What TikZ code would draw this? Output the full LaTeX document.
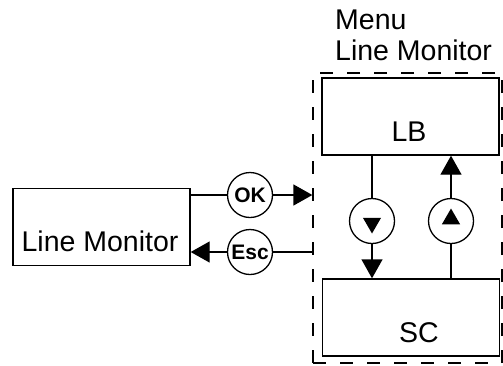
\documentclass[tikz,border=0pt]{standalone}
\usepackage{fontspec}
\setmainfont{Liberation Sans}
\usetikzlibrary{arrows.meta,shapes.geometric}
\begin{document}
\begin{tikzpicture}[x=1pt,y=-1pt,
  box/.style={draw,line width=1.4pt,rectangle,inner sep=0pt,minimum width=177pt,minimum height=77pt},
  big/.style={font=\fontsize{28.5}{34}\selectfont,inner sep=0pt},
  key/.style={draw,line width=1.3pt,circle,minimum size=45pt,inner sep=0pt,font=\bfseries\fontsize{21}{24}\selectfont},
  wire/.style={line width=1.4pt},
  arr/.style={wire,-{Triangle[length=19pt,width=21pt]}},
  tri/.style={regular polygon,regular polygon sides=3,fill=black,inner sep=0pt,minimum size=21pt}
]
\useasboundingbox (0,0) rectangle (503,365);
\node[draw,line width=1.3pt,dash pattern=on 13pt off 14pt,minimum width=189pt,minimum height=290pt,inner sep=0pt] (menu) at (407.5,218) {};
\node[big,anchor=base west] (t1) at (335,29) {Menu};
\node[big,anchor=base west] (t2) at (335,60) {Line Monitor};
\node[box] (lm) at (101.5,227) {};
\node[big] (lmt) at (100,241) {Line Monitor};
\node[box] (lb) at (410.5,116.5) {};
\node[big] (lbt) at (409,132) {LB};
\node[box] (sc) at (411,317.5) {};
\node[big] (sct) at (419,333) {SC};
\node[key] (ok) at (250,195) {OK};
\node[key] (esc) at (250,252) {Esc};
\node[key] (dn) at (372,221) {};
\node[key] (up) at (451,221) {};
\node[tri,shape border rotate=180] (dnt) at (372,223) {};
\node[tri] (upt) at (451,219) {};
\draw[wire] (lm.east |- ok) -- (ok);
\draw[arr] (ok) -- (ok -| menu.west);
\draw[wire] (esc -| menu.west) -- (esc);
\draw[arr] (esc) -- (esc -| lm.east);
\draw[wire] (lb.south -| dn) -- (dn);
\draw[arr] (dn) -- (dn |- sc.north);
\draw[wire] (sc.north -| up) -- (up);
\draw[arr] (up) -- (up |- lb.south);
\end{tikzpicture}
\end{document}
